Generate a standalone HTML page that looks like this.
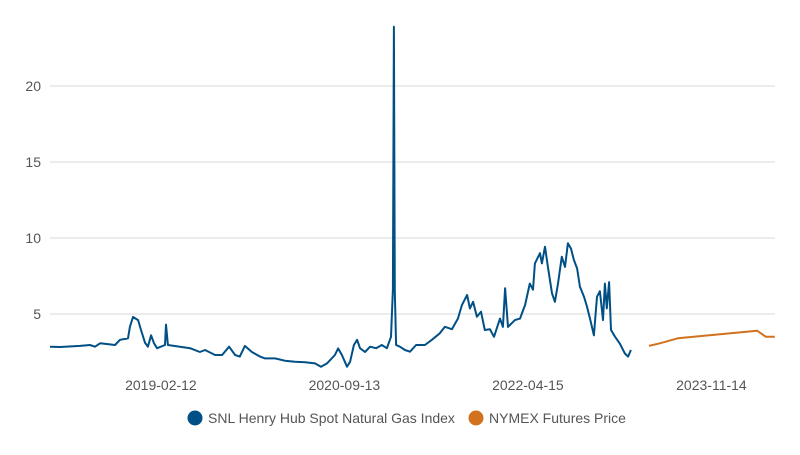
<!DOCTYPE html>
<html><head><meta charset="utf-8"><style>
body{margin:0;background:#fff;font-family:"Liberation Sans",sans-serif}
svg text{font-family:"Liberation Sans",sans-serif;fill:#555}
</style></head><body>
<svg width="800" height="450" id="c">
<g id="grid"></g><g id="axes"></g><g id="series"></g>
<g>
 <g><circle cx="195" cy="418" r="7.5" fill="#005086"/><text x="208" y="423" font-size="14">SNL Henry Hub Spot Natural Gas Index</text></g>
 <g><circle cx="476" cy="418" r="7.5" fill="#d2711e"/><text x="489" y="423" font-size="14">NYMEX Futures Price</text></g>
</g>
</svg>
<script>
const spotDays=[0,32,95,126,142,158,189,205,221,246,252,262,278,287,300,309,319,328,338,363,366,372,410,442,473,489,521,543,565,584,599,615,637,663,678,710,741,773,805,836,855,874,899,909,921,937,947,959,969,978,994,1010,1029,1047,1063,1076,1082,1085,1088,1092,1104,1120,1136,1155,1183,1205,1230,1246,1268,1287,1300,1316,1325,1335,1347,1360,1372,1388,1401,1420,1429,1436,1445,1467,1483,1499,1514,1524,1530,1546,1552,1562,1571,1584,1593,1603,1615,1625,1634,1644,1653,1663,1672,1685,1694,1704,1716,1726,1735,1745,1751,1757,1764,1770,1783,1798,1814,1824,1833];
const spotValues=[2.85,2.83,2.9,2.96,2.85,3.07,3.0,2.96,3.3,3.4,4.15,4.8,4.6,3.95,3.1,2.85,3.6,3.07,2.75,2.96,4.3,2.96,2.85,2.75,2.5,2.63,2.3,2.3,2.85,2.3,2.2,2.9,2.5,2.2,2.08,2.08,1.93,1.86,1.82,1.75,1.53,1.75,2.3,2.74,2.3,1.53,1.86,2.96,3.3,2.75,2.5,2.85,2.75,2.96,2.75,3.5,6.6,23.9,6.5,2.96,2.85,2.63,2.52,2.96,2.96,3.3,3.73,4.16,4.0,4.7,5.6,6.25,5.37,5.8,4.82,5.15,3.95,4.0,3.5,4.7,4.15,6.7,4.15,4.6,4.7,5.6,7.0,6.6,8.33,9.0,8.33,9.43,8.1,6.36,5.8,7.0,8.77,8.1,9.65,9.3,8.55,8.0,6.8,6.14,5.5,4.7,3.6,6.14,6.5,4.6,7.0,5.37,7.1,3.95,3.5,3.05,2.4,2.2,2.63];
const futDays=[1890,1924,1981,2231,2259,2287];
const futValues=[2.9,3.07,3.4,3.9,3.5,3.5];
const yTicks=[5,10,15,20];
const xTickDays=[350,929,1508,2087];
const xTickLabels=["2019-02-12","2020-09-13","2022-04-15","2023-11-14"];
const NS="http://www.w3.org/2000/svg";
const xS=d=>50+d*0.31693;
const yS=v=>390-v*15.2;
const grid=document.getElementById('grid'),axes=document.getElementById('axes'),ser=document.getElementById('series');
yTicks.forEach(t=>{
 const l=document.createElementNS(NS,'line');
 
 
 l.setAttribute('x1',50);l.setAttribute('x2',775);l.setAttribute('y1',yS(t));l.setAttribute('y2',yS(t));
 l.setAttribute('stroke','#d8d8d8');l.setAttribute('stroke-width',1);grid.appendChild(l);
 const tx=document.createElementNS(NS,'text');
 
 
 tx.setAttribute('x',41);tx.setAttribute('y',yS(t)+5);tx.setAttribute('text-anchor','end');tx.setAttribute('font-size','14');
 tx.textContent=t;axes.appendChild(tx);
});
xTickDays.forEach((d,i)=>{
 const tx=document.createElementNS(NS,'text');
 
 
 tx.setAttribute('x',xS(d));tx.setAttribute('y',390);tx.setAttribute('text-anchor','middle');tx.setAttribute('font-size','14');
 tx.textContent=xTickLabels[i];axes.appendChild(tx);
});
function line(days,vals,color,name){
 const p=document.createElementNS(NS,'path');
 
 
 p.setAttribute('d',days.map((d,i)=>(i?'L':'M')+xS(d).toFixed(1)+','+yS(vals[i]).toFixed(1)).join(''));
 p.setAttribute('fill','none');p.setAttribute('stroke',color);p.setAttribute('stroke-width',2);p.setAttribute('stroke-linejoin','round');
 ser.appendChild(p);
}
line(spotDays,spotValues,'#005086','spot-price-line');
line(futDays,futValues,'#d2711e','futures-price-line');
</script>
</body></html>
